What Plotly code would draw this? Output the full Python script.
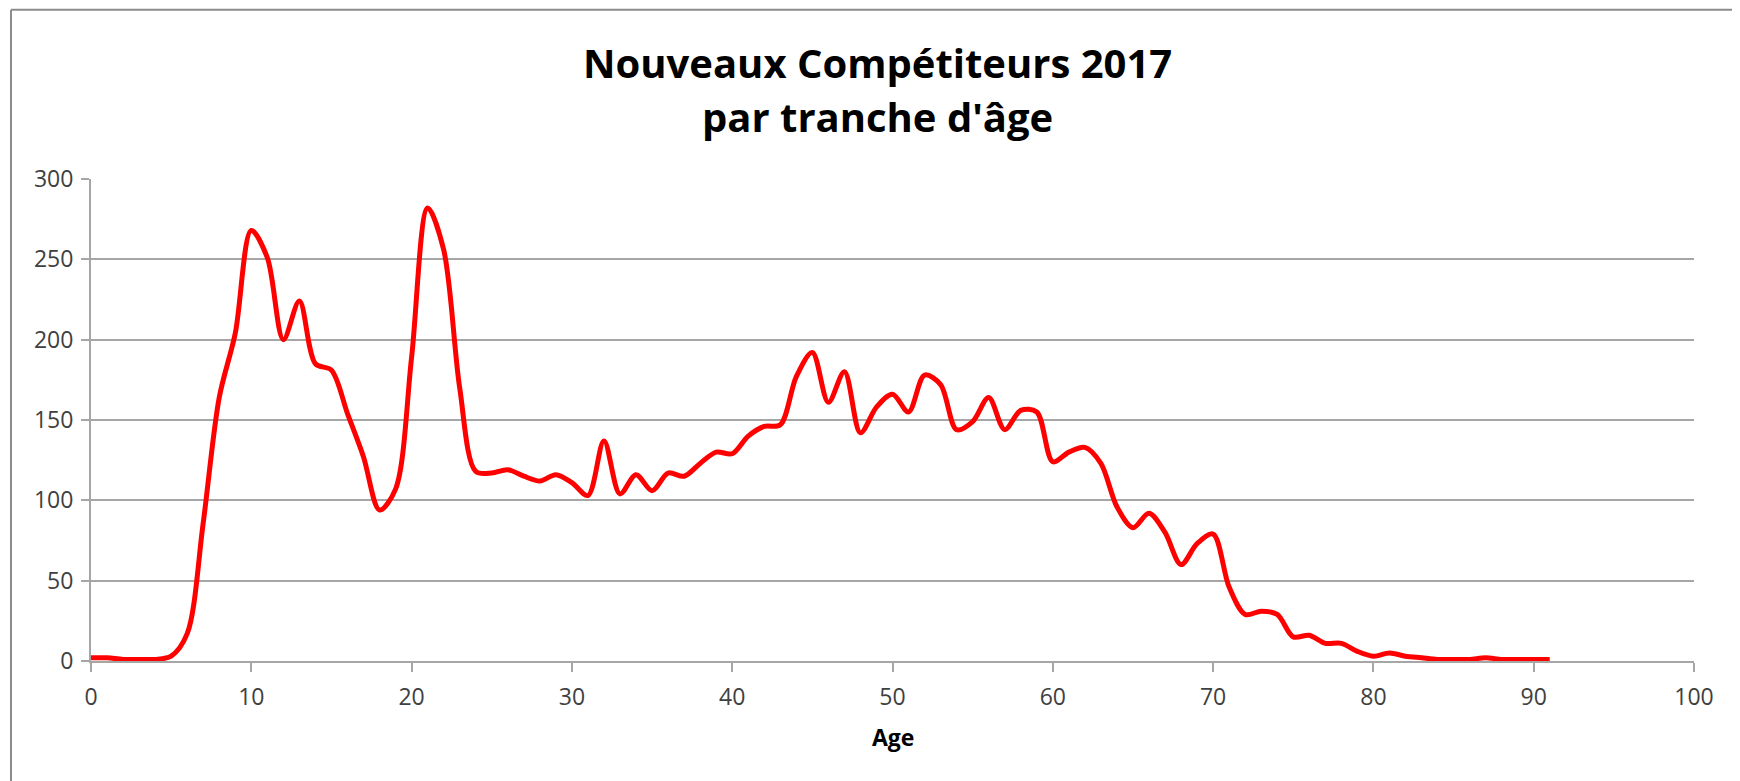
import plotly.graph_objects as go

ages = list(range(0, 92))
counts = [2, 2, 1, 1, 1, 3, 17, 86, 164, 204, 268, 251, 200, 224, 185, 181, 154, 127, 94, 107,
          189, 282, 256, 170, 118, 117, 119, 115, 112, 116, 111, 103, 137, 104, 116, 106, 117, 115, 123, 130,
          129, 140, 146, 147, 177, 192, 161, 180, 142, 158, 166, 155, 178, 172, 144, 149, 164, 144, 156, 155,
          124, 130, 133, 123, 96, 83, 92, 80, 60, 73, 79, 46, 29, 31, 29, 15, 16, 11, 11, 6,
          3, 5, 3, 2, 1, 1, 1, 2, 1, 1, 1, 1]

title_line1 = "Nouveaux Compétiteurs 2017"
title_line2 = "par tranche d'âge"
x_title = "Age"
x_ticks = [0, 10, 20, 30, 40, 50, 60, 70, 80, 90, 100]
y_ticks = [0, 50, 100, 150, 200, 250, 300]

# page has an 8px body margin; figure coords are page coords minus 8
W, H = 1740, 781
L, R, T, B = 83, 54, 170.5, 127.6
pw, ph = W - L - R, H - T - B


def px(xf):
    return (xf - L) / pw


def py(yf):
    return (H - B - yf) / ph


FONT = "'Open Sans', Lato, sans-serif"
FRAME = dict(color="#8c8c8c", width=2)

fig = go.Figure()
fig.add_trace(go.Scatter(x=ages, y=counts, mode="lines",
                         line=dict(color="#ff0000", width=5, shape="spline", smoothing=0.9),
                         showlegend=False, hoverinfo="x+y"))

fig.update_layout(
    width=W, height=H,
    margin=dict(l=L, r=R, t=T, b=B),
    paper_bgcolor="white", plot_bgcolor="white",
    font=dict(family=FONT, color="#404040", size=23),
    xaxis=dict(range=[0, 100], tickvals=x_ticks, showgrid=False, zeroline=False,
               showline=True, linecolor="#a6a6a6", linewidth=2,
               ticks="outside", ticklen=9, tickwidth=2, tickcolor="#a6a6a6",
               ticklabelstandoff=5, tickfont=dict(size=23, color="#404040")),
    yaxis=dict(range=[0, 300], tickvals=y_ticks, showgrid=True, gridcolor="#a6a6a6", gridwidth=2,
               zeroline=False, showline=True, linecolor="#a6a6a6", linewidth=2,
               ticks="outside", ticklen=8, tickwidth=2, tickcolor="#a6a6a6",
               ticklabelstandoff=3, tickfont=dict(size=23, color="#404040")),
    annotations=[
        dict(text="<b>" + title_line1 + "</b>", xref="paper", yref="paper",
             x=px(869), y=py(54), xanchor="center", yanchor="middle", showarrow=False,
             font=dict(size=40, color="#000000", family=FONT)),
        dict(text="<b>" + title_line2 + "</b>", xref="paper", yref="paper",
             x=px(869), y=py(108), xanchor="center", yanchor="middle", showarrow=False,
             font=dict(size=40, color="#000000", family=FONT)),
        dict(text="<b>" + x_title + "</b>", xref="paper", yref="paper",
             x=px(885), y=py(730), xanchor="center", yanchor="middle",
             showarrow=False, font=dict(size=23, color="#000000", family=FONT)),
    ],
    shapes=[
        dict(type="line", xref="paper", yref="paper", x0=px(3), x1=px(W), y0=py(1), y1=py(1),
             line=FRAME, layer="below"),
        dict(type="line", xref="paper", yref="paper", x0=px(3), x1=px(3), y0=py(1), y1=py(H),
             line=FRAME, layer="below"),
    ],
)

fig.write_html("out.html")
